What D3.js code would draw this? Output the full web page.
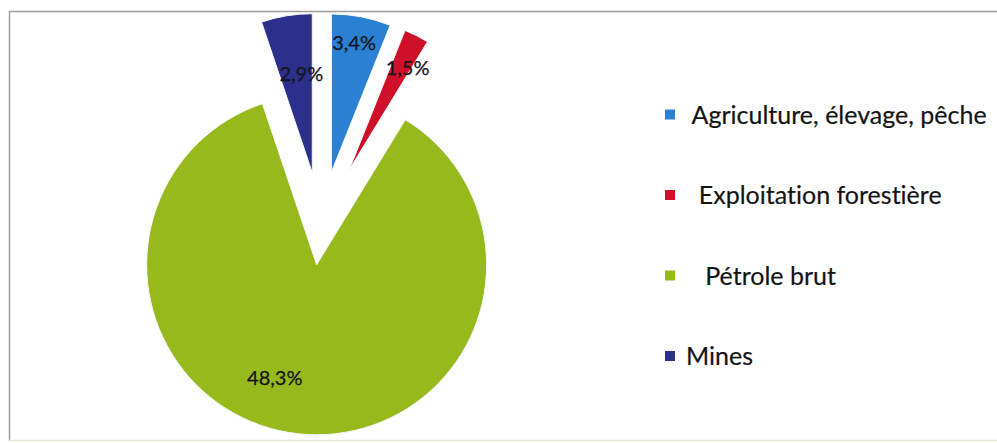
<!DOCTYPE html>
<html>
  <head>
    <meta charset="utf-8" />
    <script src="https://d3js.org/d3.v7.min.js"></script>
    <style>
      body {
        margin: 0;
        background: #fff;
      }
      text {
        font-family: Lato, "Open Sans", sans-serif;
        font-variant-ligatures: none;
        white-space: pre;
      }
    </style>
  </head>
  <body>
    <div id="chart"></div>

    <script>
      // Data
      const categories = [
        "Agriculture, élevage, pêche",
        "Exploitation forestière",
        "Pétrole brut",
        "Mines",
      ];
      const legendLabels = [
        " Agriculture, élevage, pêche",
        "  Exploitation forestière",
        "   Pétrole brut",
        "Mines",
      ];
      const values = [3.4, 1.5, 48.3, 2.9];
      const valueLabels = ["3,4%", "1,5%", "48,3%", "2,9%"];

      // Slice styling / exploded layout (Excel look)
      const colors = ["#2a80d3", "#cf1029", "#98b91b", "#2d2f8c"];
      const explode = [55, 63, 39, 54];
      const radii = [158, 150, 170, 159];
      const labelR = [132, 118, 120, 100];
      const labelShift = [-1, 3, 14, 3]; // degrees

      const width = 997;
      const height = 443;
      const cx = 321;
      const cy = 226;

      const svg = d3
        .select("#chart")
        .append("svg")
        .attr("width", width)
        .attr("height", height);

      // chart frame
      svg.append("line")
        .attr("x1", 9.5).attr("x2", 9.5).attr("y1", 11).attr("y2", 441)
        .attr("stroke", "#9c9c9c").attr("stroke-width", 1.5);
      svg.append("line")
        .attr("x1", 9).attr("x2", width).attr("y1", 11.5).attr("y2", 11.5)
        .attr("stroke", "#9c9c9c").attr("stroke-width", 1.5);
      svg.append("line")
        .attr("x1", 9).attr("x2", width).attr("y1", 440.5).attr("y2", 440.5)
        .attr("stroke", "#e6e6d8").attr("stroke-width", 1.5);

      const pie = d3.pie().sort(null).value((d) => d)(values);
      const toRad = Math.PI / 180;

      const slices = svg
        .selectAll(".slice")
        .data(pie)
        .join("g")
        .attr("class", "slice")
        .attr("transform", (d, i) => {
          const mid = (d.startAngle + d.endAngle) / 2;
          const dx = Math.sin(mid) * explode[i];
          const dy = -Math.cos(mid) * explode[i];
          return `translate(${cx + dx},${cy + dy})`;
        });

      slices
        .append("path")
        .attr("d", (d, i) => d3.arc().innerRadius(0).outerRadius(radii[i])(d))
        .attr("fill", (d, i) => colors[i])
        .attr("stroke", "#f4f8fb")
        .attr("stroke-width", 1);

      slices
        .append("text")
        .attr("transform", (d, i) => {
          const a = (d.startAngle + d.endAngle) / 2 + labelShift[i] * toRad;
          return `translate(${Math.sin(a) * labelR[i]},${-Math.cos(a) * labelR[i]})`;
        })
        .attr("text-anchor", "middle")
        .attr("dominant-baseline", "central")
        .attr("font-size", 20)
        .attr("fill", "#14141c")
        .attr("stroke", "#14141c")
        .attr("stroke-width", 0.25)
        .text((d, i) => valueLabels[i]);

      // legend
      const rowY = d3.scalePoint().domain(categories).range([114.5, 356]);

      const legend = svg
        .selectAll(".legend")
        .data(categories)
        .join("g")
        .attr("class", "legend")
        .attr("transform", (d) => `translate(665,${rowY(d)})`);

      legend
        .append("rect")
        .attr("x", 0)
        .attr("y", -5)
        .attr("width", 10)
        .attr("height", 10)
        .attr("fill", (d, i) => colors[i]);

      legend
        .append("text")
        .attr("x", 21)
        .attr("y", 9)
        .attr("font-size", 25)
        .attr("fill", "#141414")
        .attr("stroke", "#141414")
        .attr("stroke-width", 0.2)
        .text((d, i) => legendLabels[i]);
    </script>
  </body>
</html>
